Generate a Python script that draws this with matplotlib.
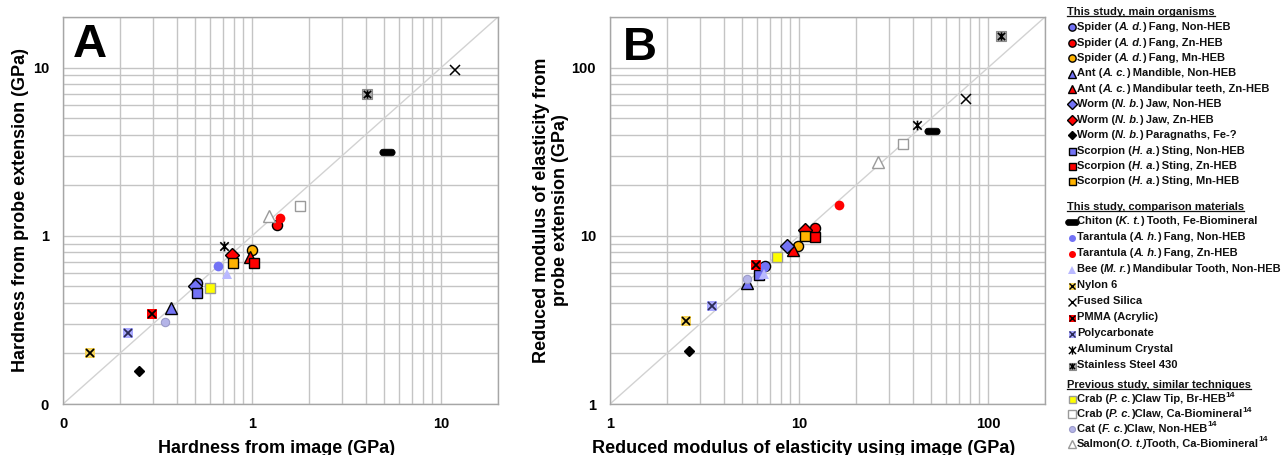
import re
import numpy as np
import matplotlib
matplotlib.use('Agg')
import matplotlib.pyplot as plt
from matplotlib.path import Path
from matplotlib.font_manager import FontProperties
from matplotlib.ticker import LogLocator, FixedLocator, FixedFormatter, NullFormatter

plt.rcParams['font.family'] = ['Liberation Sans', 'DejaVu Sans']
plt.rcParams['font.weight'] = 'bold'

# ---------------- data ----------------
labels = [
    "Spider (*A. d.*) Fang, Non-HEB",
    "Spider (*A. d.*) Fang, Zn-HEB",
    "Spider (*A. d.*) Fang, Mn-HEB",
    "Ant (*A. c.*) Mandible, Non-HEB",
    "Ant (*A. c.*) Mandibular teeth, Zn-HEB",
    "Worm (*N. b.*) Jaw, Non-HEB",
    "Worm (*N. b.*) Jaw, Zn-HEB",
    "Worm (*N. b.*) Paragnaths, Fe-?",
    "Scorpion (*H. a.*) Sting, Non-HEB",
    "Scorpion (*H. a.*) Sting, Zn-HEB",
    "Scorpion (*H. a.*) Sting, Mn-HEB",
    "Chiton (*K. t.*) Tooth, Fe-Biomineral",
    "Tarantula (*A. h.*) Fang, Non-HEB",
    "Tarantula (*A. h.*) Fang, Zn-HEB",
    "Bee (*M. r.*) Mandibular Tooth, Non-HEB",
    "Nylon 6",
    "Fused Silica",
    "PMMA (Acrylic)",
    "Polycarbonate",
    "Aluminum Crystal",
    "Stainless Steel 430",
    "Crab (*P. c.*)Claw Tip, Br-HEB^14^",
    "Crab (*P. c.*)Claw, Ca-Biomineral^14^",
    "Cat (*F. c.*)Claw, Non-HEB^14^",
    "Salmon(*O. t.)*Tooth, Ca-Biomineral^14^",
]
group_titles = ["This study, main organisms",
                "This study, comparison materials",
                "Previous study, similar techniques"]
group_sizes = [11, 10, 4]

hard_image = [0.51, 1.36, 1.00, 0.371, 0.98, 0.50, 0.78, 0.253, 0.509, 1.02, 0.796,
              5.16, 0.664, 1.41, 0.734, 0.139, 11.9, 0.294, 0.222, 0.714, 4.05,
              0.60, 1.79, 0.347, 1.235]
hard_probe = [0.525, 1.16, 0.818, 0.371, 0.753, 0.50, 0.767, 0.158, 0.456, 0.688, 0.688,
              3.13, 0.663, 1.27, 0.594, 0.200, 9.7, 0.343, 0.264, 0.864, 6.97,
              0.489, 1.50, 0.309, 1.32]
mod_image = [6.61, 12.2, 9.84, 5.33, 9.33, 8.67, 10.75, 2.63, 6.17, 12.2, 10.8,
             50.4, 6.5, 16.2, 6.55, 2.52, 76.2, 5.90, 3.45, 42.0, 117.0,
             7.62, 35.6, 5.33, 26.1]
mod_probe = [6.57, 11.2, 8.75, 5.25, 8.26, 8.64, 10.8, 2.07, 5.86, 9.9, 10.0,
             41.8, 6.5, 15.3, 5.9, 3.12, 65.4, 6.72, 3.83, 45.8, 153.6,
             7.53, 35.3, 5.5, 27.5]

major_ticks_a = [0.1, 1, 10]
major_labels_a = ['0', '1', '10']
major_ticks_b = [1, 10, 100]
major_labels_b = ['1', '10', '100']

# ---------------- marker styles ----------------
M, L = Path.MOVETO, Path.LINETO
star = Path([(-1, -1), (1, 1), (-1, 1), (1, -1), (0, -1.15), (0, 1.15)], [M, L, M, L, M, L])
_t = np.linspace(-np.pi / 2, np.pi / 2, 24)
_right = np.column_stack([1.3 + np.cos(_t), np.sin(_t)])
_left = np.column_stack([-1.3 - np.cos(_t), -np.sin(_t)])
_pv = np.vstack([_right, _left, _right[:1]])
pill = Path(_pv, [M] + [L] * (len(_pv) - 2) + [Path.CLOSEPOLY])

BLUE = '#7373f5'
RED = '#ff0000'
ORANGE = '#ffb300'
K = 'black'


def lay(marker, size, face, edge='none', mew=0.0):
    return dict(marker=marker, ms=size, mfc=face, mec=edge, mew=mew)


styles = [
    [lay('o', 7.3, BLUE, K, 1.0)],
    [lay('o', 7.3, RED, K, 1.0)],
    [lay('o', 7.3, ORANGE, K, 1.0)],
    [lay('^', 8.2, BLUE, K, 1.0)],
    [lay('^', 8.2, RED, K, 1.0)],
    [lay('D', 6.8, BLUE, K, 1.0)],
    [lay('D', 6.8, RED, K, 1.0)],
    [lay('D', 5.6, K, K, 1.0)],
    [lay('s', 7.0, BLUE, K, 1.0)],
    [lay('s', 7.0, RED, K, 1.0)],
    [lay('s', 7.0, ORANGE, K, 1.0)],
    [lay(pill, 11.0, K, K, 0.5)],
    [lay('o', 7.0, BLUE)],
    [lay('o', 7.0, RED)],
    [lay('^', 7.5, '#b9b9ff')],
    [lay('s', 7.0, '#f7d55a'), lay('x', 6.0, 'none', K, 1.3)],
    [lay('x', 7.0, 'none', K, 1.1)],
    [lay('s', 7.0, RED), lay('x', 6.0, 'none', K, 1.3)],
    [lay('s', 7.0, '#a9a9ff'), lay('x', 6.0, 'none', '#2a2a55', 1.3)],
    [lay(star, 7.0, 'none', K, 1.2)],
    [lay('s', 7.0, '#a8a8a8', '#8a8a8a', 0.8), lay(star, 6.0, 'none', K, 1.2)],
    [lay('s', 7.0, '#ffff00', '#9a9a9a', 1.0)],
    [lay('s', 7.6, 'white', '#9a9a9a', 1.0)],
    [lay('o', 6.0, '#b4b4e8', '#9a9ac8', 0.8)],
    [lay('^', 8.4, 'white', '#9a9a9a', 1.0)],
]

# ---------------- figure ----------------
W, H = 1286, 455
fig = plt.figure(figsize=(W / 100, H / 100), dpi=100)


def px_axes(l, t, r, b):
    return fig.add_axes([l / W, 1 - b / H, (r - l) / W, (b - t) / H])


axA = px_axes(63, 17, 498, 404)
axB = px_axes(610, 17, 1045, 404)

GRID = '#c4c4c4'


def setup(ax, lim, ticks, ticklabels):
    ax.set_xscale('log')
    ax.set_yscale('log')
    ax.set_xlim(*lim)
    ax.set_ylim(*lim)
    for axis in (ax.xaxis, ax.yaxis):
        axis.set_major_locator(FixedLocator(ticks))
        axis.set_major_formatter(FixedFormatter(ticklabels))
        axis.set_minor_locator(LogLocator(base=10, subs=np.arange(2, 10), numticks=20))
        axis.set_minor_formatter(NullFormatter())
    ax.grid(True, which='both', color=GRID, lw=1.0)
    ax.set_axisbelow(True)
    ax.tick_params(which='both', length=0)
    ax.tick_params(axis='x', labelsize=10.5, pad=9)
    ax.tick_params(axis='y', labelsize=10.5, pad=10)
    for lab in ax.get_xticklabels() + ax.get_yticklabels():
        lab.set_fontweight('bold')
    for s in ax.spines.values():
        s.set_color('#a6a6a6')
        s.set_linewidth(1.0)
    ax.plot([0, 1], [0, 1], transform=ax.transAxes, color='#d2d2d2', lw=1.0, zorder=1)


setup(axA, (0.1, 20), major_ticks_a, major_labels_a)
setup(axB, (1, 200), major_ticks_b, major_labels_b)


def draw_points(ax, xs, ys):
    for i, (x, y) in enumerate(zip(xs, ys)):
        for st in styles[i]:
            ax.plot([x], [y], linestyle='none', marker=st['marker'], ms=st['ms'],
                    mfc=st['mfc'], mec=st['mec'], mew=st['mew'], zorder=3 + i * 0.01,
                    clip_on=False)


draw_points(axA, hard_image, hard_probe)
draw_points(axB, mod_image, mod_probe)

axA.set_xlabel('Hardness from image (GPa)', fontsize=13, fontweight='bold')
axA.xaxis.set_label_coords(0.49, -0.094)
axA.set_ylabel('Hardness from probe extension (GPa)', fontsize=13, fontweight='bold')
axA.yaxis.set_label_coords(-0.078, 0.5)

axB.set_xlabel('Reduced modulus of elasticity using image (GPa)', fontsize=13, fontweight='bold')
axB.xaxis.set_label_coords(0.444, -0.094)
axB.set_ylabel('Reduced modulus of elasticity from\nprobe extension (GPa)', fontsize=13,
               fontweight='bold', linespacing=1.15)
axB.yaxis.set_label_coords(-0.095, 0.5)

axA.text(0.022, 0.985, 'A', transform=axA.transAxes, fontsize=34, fontweight='bold',
         va='top', ha='left')
axB.text(0.03, 0.978, 'B', transform=axB.transAxes, fontsize=34, fontweight='bold',
         va='top', ha='left')

# ---------------- legend ----------------
axL = fig.add_axes([0, 0, 1, 1], zorder=-1)
axL.set_xlim(0, W)
axL.set_ylim(H, 0)
axL.axis('off')

fig.canvas.draw()
rend = fig.canvas.get_renderer()

group_layout = [(11.7, 27.3, 15.4), (206.7, 221.5, 16.0), (385.0, 399.0, 14.9)]
head_x, mark_x, text_x = 1067, 1071.5, 1077
LEG_FS = 8.0
leg_scale = 0.72
TXT = '#111111'


def seg_width(s, fp):
    w1, _, _ = rend.get_text_width_height_descent('|' + s + '|', fp, ismath=False)
    w0, _, _ = rend.get_text_width_height_descent('||', fp, ismath=False)
    return w1 - w0


def rich_text(x, y, s, fs):
    parts = re.split(r'(\*[^*]+\*|\^[^^]+\^)', s)
    for p in parts:
        if not p:
            continue
        if p.startswith('*'):
            txt, style, size, dy = p[1:-1], 'italic', fs, 0.0
        elif p.startswith('^'):
            txt, style, size, dy = p[1:-1], 'normal', fs * 0.75, -3.8
        else:
            txt, style, size, dy = p, 'normal', fs, 0.0
        fp = FontProperties(family=['Liberation Sans'], weight='bold', style=style, size=size)
        axL.text(x, y + dy, txt, fontproperties=fp, va='center', ha='left', color=TXT)
        x += seg_width(txt, fp)


heads = []
idx = 0
for g, (title, n) in enumerate(zip(group_titles, group_sizes)):
    hy, fy, step = group_layout[g]
    heads.append(axL.text(head_x, hy, title, fontsize=LEG_FS, fontweight='bold',
                          va='center', ha='left', color=TXT))
    for k in range(n):
        y = fy + k * step
        layers = styles[idx]
        for st in layers:
            ms = st['ms'] * leg_scale
            if st['marker'] is pill:
                ms = st['ms'] * 0.9
            elif len(layers) == 1 and (st['marker'] == 'x' or st['marker'] is star):
                ms = st['ms'] * 0.85
            axL.plot([mark_x], [y], linestyle='none', marker=st['marker'], ms=ms,
                     mfc=st['mfc'], mec=st['mec'], mew=min(st['mew'], 1.0))
        rich_text(text_x, y, labels[idx], LEG_FS)
        idx += 1

fig.canvas.draw()
inv = axL.transData.inverted()
for t in heads:
    bb = t.get_window_extent(rend)
    (x0, y0), (x1, y1) = inv.transform([(bb.x0, bb.y0), (bb.x1, bb.y0)])
    axL.plot([x0, x1], [y0 - 1.0, y1 - 1.0], color=TXT, lw=0.9)

fig.savefig('out.png', dpi=100)
